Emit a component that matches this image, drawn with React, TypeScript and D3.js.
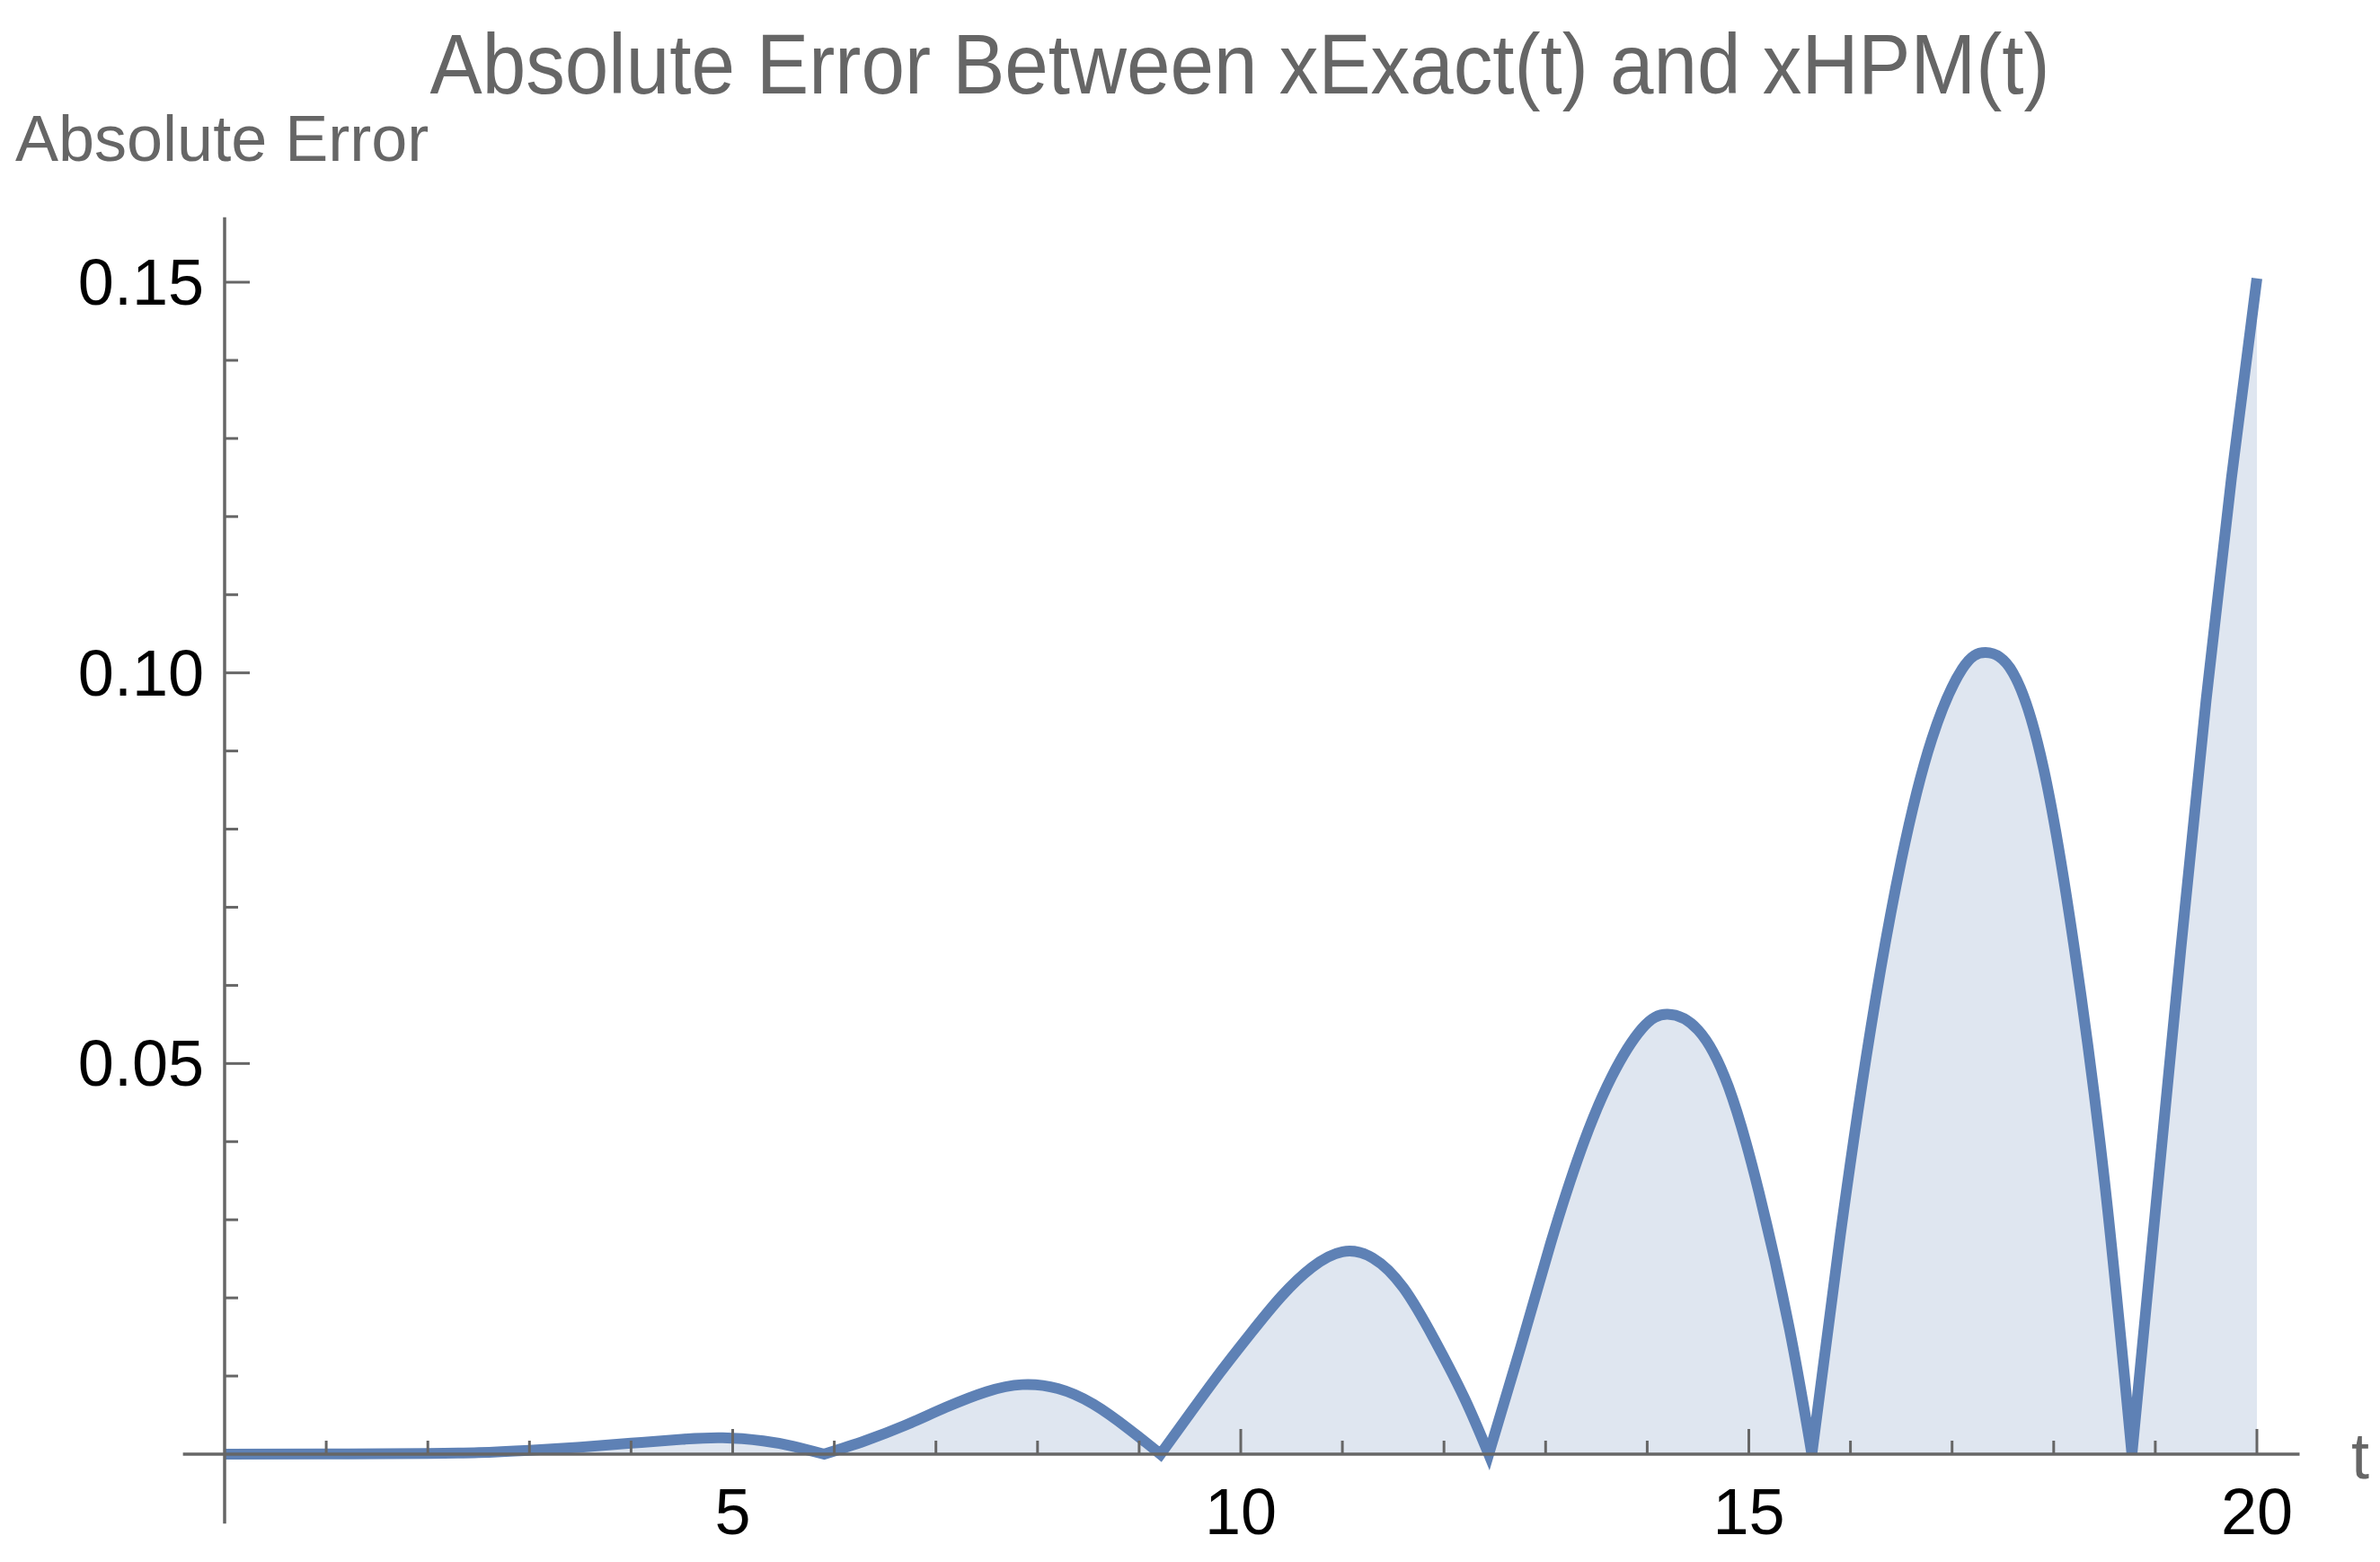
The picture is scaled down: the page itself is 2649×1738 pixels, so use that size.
import * as React from 'react'
import * as d3 from 'd3'

// values
const tValues = [
  0, 1, 2, 2.5, 3, 3.5, 4, 4.5, 4.9, 5.3, 5.6, 5.9,
  6.3, 6.7, 7.1, 7.5, 7.85, 8.2, 8.55, 8.9, 9.21,
  9.5, 9.8, 10.1, 10.4, 10.7, 11.0, 11.3, 11.6, 11.9, 12.2, 12.44,
  12.75, 13.05, 13.35, 13.65, 13.95, 14.2, 14.5, 14.8, 15.1, 15.4, 15.62,
  15.9, 16.2, 16.5, 16.8, 17.1, 17.33, 17.6, 17.9, 18.2, 18.5, 18.77,
  19.0, 19.25, 19.5, 19.75, 20,
]
const errValues = [
  0, 0.00002, 0.0001, 0.0002, 0.0005, 0.0009, 0.0014, 0.0019, 0.0021, 0.0017, 0.001, 0,
  0.0017, 0.0037, 0.006, 0.008, 0.0089, 0.0084, 0.0064, 0.0032, 0,
  0.0052, 0.0105, 0.0155, 0.0202, 0.0239, 0.0259, 0.0251, 0.0213, 0.0148, 0.0072, 0,
  0.0135, 0.027, 0.039, 0.0483, 0.0545, 0.0563, 0.0543, 0.047, 0.0335, 0.016, 0,
  0.028, 0.0545, 0.076, 0.0915, 0.1005, 0.1026, 0.1, 0.0878, 0.065, 0.035, 0,
  0.031, 0.0645, 0.0965, 0.125, 0.1505,
]

const xMajorTicks = [5, 10, 15, 20]
const xMinorTicks = [1, 2, 3, 4, 6, 7, 8, 9, 11, 12, 13, 14, 16, 17, 18, 19]
const xTickLabels = ['5', '10', '15', '20']
const yMajorTicks = [0.05, 0.1, 0.15]
const yMinorTicks = [0.01, 0.02, 0.03, 0.04, 0.06, 0.07, 0.08, 0.09, 0.11, 0.12, 0.13, 0.14]
const yTickLabels = ['0.05', '0.10', '0.15']

const titleText = 'Absolute Error Between xExact(t) and xHPM(t)'
const yAxisTitle = 'Absolute Error'
const xAxisTitle = 't'

const W = 2649
const H = 1738
const font = 'Liberation Sans, Arial, sans-serif'
const axisColor = '#666666'
const lineColor = '#5e81b5'

const App = () => {
  const x = d3.scaleLinear().domain([0, 20]).range([250, 2512])
  const y = d3.scaleLinear().domain([0, 0.15]).range([1618, 314])

  const points = tValues.map((t, i) => ({ t, v: errValues[i] }))

  // split at the zeros so the cusps stay sharp
  const segments: { t: number; v: number }[][] = []
  let cur = [points[0]]
  for (let i = 1; i < points.length; i++) {
    cur.push(points[i])
    if (points[i].v === 0 && i < points.length - 1) {
      segments.push(cur)
      cur = [points[i]]
    }
  }
  segments.push(cur)

  const curve = d3.curveNatural

  const line = d3.line<{ t: number; v: number }>()
    .x(d => x(d.t))
    .y(d => y(d.v))
    .curve(curve)

  const area = d3.area<{ t: number; v: number }>()
    .x(d => x(d.t))
    .y0(y(0))
    .y1(d => y(d.v))
    .curve(curve)

  const linePath = segments
    .map((seg, i) => {
      const p = line(seg) || ''
      return i === 0 ? p : p.replace(/^M[^CL]*/, '')
    })
    .join('')

  const areaPath = segments.map(seg => area(seg) || '').join('')

  return (
    <svg width={W} height={H} style={{ position: 'absolute', left: 0, top: 0 }}>
      <rect width={W} height={H} fill="#ffffff" />

      <path d={areaPath} fill={lineColor} fillOpacity={0.2} />
      <path d={linePath} fill="none" stroke={lineColor} strokeWidth={12} strokeLinejoin="miter" strokeMiterlimit={3} />

      {/* axes */}
      <g stroke={axisColor}>
        <line x1={x(-0.41)} x2={x(20.42)} y1={y(0)} y2={y(0)} strokeWidth={3.5} />
        <line x1={x(0)} x2={x(0)} y1={y(-0.0089)} y2={y(0.1583)} strokeWidth={3.5} />
        {xMajorTicks.map(t => (
          <line key={'xM' + t} x1={x(t)} x2={x(t)} y1={y(0)} y2={y(0) - 28} strokeWidth={3} />
        ))}
        {xMinorTicks.map(t => (
          <line key={'xm' + t} x1={x(t)} x2={x(t)} y1={y(0)} y2={y(0) - 15} strokeWidth={3} />
        ))}
        {yMajorTicks.map(v => (
          <line key={'yM' + v} x1={x(0)} x2={x(0) + 28} y1={y(v)} y2={y(v)} strokeWidth={3} />
        ))}
        {yMinorTicks.map(v => (
          <line key={'ym' + v} x1={x(0)} x2={x(0) + 15} y1={y(v)} y2={y(v)} strokeWidth={3} />
        ))}
      </g>

      <g fontFamily={font} fontSize={72} fill="#000000">
        {xMajorTicks.map((t, i) => (
          <text key={'xl' + t} x={x(t)} y={1707} textAnchor="middle">{xTickLabels[i]}</text>
        ))}
        {yMajorTicks.map((v, i) => (
          <text key={'yl' + v} x={x(0) - 23} y={y(v)} textAnchor="end" dominantBaseline="central">{yTickLabels[i]}</text>
        ))}
      </g>

      <text x={1380} y={104} textAnchor="middle" fontFamily={font} fontSize={94} fill={axisColor}
        textLength={1803} lengthAdjust="spacingAndGlyphs">{titleText}</text>
      <text x={17} y={179} fontFamily={font} fontSize={72} fill={axisColor}>{yAxisTitle}</text>
      <text x={2617} y={1645} fontFamily={font} fontSize={72} fill={axisColor}>{xAxisTitle}</text>
    </svg>
  )
}

export default App
